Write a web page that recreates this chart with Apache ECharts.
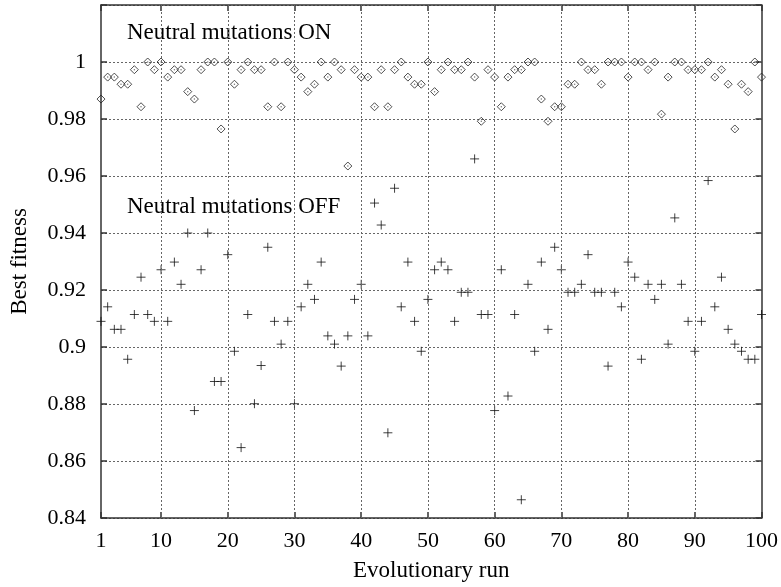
<!DOCTYPE html>
<html>
<head>
<meta charset="utf-8">
<script src="https://cdn.jsdelivr.net/npm/echarts@6/dist/echarts.min.js"></script>
<style>
html,body{margin:0;padding:0;background:#fff;}
#chart{width:781px;height:587px;}
</style>
</head>
<body>
<div id="chart"></div>
<script>
// Evolutionary runs 1..100
const runs = Array.from({length: 100}, (_, i) => i + 1);
const xTicks = [1, 10, 20, 30, 40, 50, 60, 70, 80, 90, 100];

// Best fitness with neutral mutations ON (diamonds)
const fitnessOn = [
  0.987, 0.9947, 0.9947, 0.9922, 0.9922, 0.9973, 0.9843, 1.0, 0.9973, 1.0,
  0.9947, 0.9973, 0.9973, 0.9896, 0.987, 0.9973, 1.0, 1.0, 0.9765, 1.0,
  0.9922, 0.9973, 1.0, 0.9973, 0.9973, 0.9843, 1.0, 0.9843, 1.0, 0.9973,
  0.9947, 0.9896, 0.9922, 1.0, 0.9947, 1.0, 0.9973, 0.9635, 0.9973, 0.9947,
  0.9947, 0.9843, 0.9973, 0.9843, 0.9973, 1.0, 0.9947, 0.9922, 0.9922, 1.0,
  0.9896, 0.9973, 1.0, 0.9973, 0.9973, 1.0, 0.9947, 0.9792, 0.9973, 0.9947,
  0.9843, 0.9947, 0.9973, 0.9973, 1.0, 1.0, 0.987, 0.9792, 0.9843, 0.9843,
  0.9922, 0.9922, 1.0, 0.9973, 0.9973, 0.9922, 1.0, 1.0, 1.0, 0.9947,
  1.0, 1.0, 0.9973, 1.0, 0.9817, 0.9947, 1.0, 1.0, 0.9973, 0.9973,
  0.9973, 1.0, 0.9947, 0.9973, 0.9922, 0.9765, 0.9922, 0.9896, 1.0, 0.9947
];

// Best fitness with neutral mutations OFF (plus signs)
const fitnessOff = [
  0.909, 0.9141, 0.9062, 0.9062, 0.8957, 0.9114, 0.9245, 0.9114, 0.909, 0.9271,
  0.909, 0.9298, 0.922, 0.94, 0.8777, 0.9271, 0.94, 0.8879, 0.8879, 0.9324,
  0.8985, 0.8647, 0.9114, 0.8801, 0.8935, 0.935, 0.909, 0.901, 0.909, 0.8801,
  0.9141, 0.922, 0.9167, 0.9298, 0.9039, 0.901, 0.8933, 0.9039, 0.9167, 0.922,
  0.9039, 0.9505, 0.9428, 0.8699, 0.9557, 0.9141, 0.9298, 0.909, 0.8985, 0.9167,
  0.9271, 0.9298, 0.9271, 0.909, 0.9192, 0.9192, 0.966, 0.9114, 0.9114, 0.8777,
  0.9271, 0.8828, 0.9114, 0.8464, 0.922, 0.8985, 0.9298, 0.9062, 0.935, 0.9271,
  0.9192, 0.9192, 0.922, 0.9324, 0.9192, 0.9192, 0.8933, 0.9192, 0.9141, 0.9298,
  0.9245, 0.8957, 0.922, 0.9167, 0.922, 0.901, 0.9453, 0.922, 0.909, 0.8985,
  0.909, 0.9584, 0.9141, 0.9245, 0.9062, 0.901, 0.8985, 0.8957, 0.8957, 0.9114
];

const labelOn = 'Neutral mutations ON';
const labelOff = 'Neutral mutations OFF';
const xTitle = 'Evolutionary run';
const yTitle = 'Best fitness';

const FONT = "'Liberation Serif', 'Times New Roman', serif";
const onData = runs.map((r, i) => [r, fitnessOn[i]]);
const offData = runs.map((r, i) => [r, fitnessOff[i]]);

const chart = echarts.init(document.getElementById('chart'), null, {renderer: 'canvas'});
const axisLineStyle = {color: '#333', width: 1.5};
const gridLine = {show: true, lineStyle: {color: '#666', type: [2, 2], width: 1}};

chart.setOption({
  animation: false,
  backgroundColor: '#fff',
  textStyle: {fontFamily: FONT},
  grid: {left: 99, right: 19, top: 5, bottom: 66, containLabel: false},
  xAxis: [{
    type: 'value', min: 1, max: 100, position: 'bottom',
    name: xTitle, nameLocation: 'middle', nameGap: 41,
    nameTextStyle: {fontFamily: FONT, fontSize: 23, color: '#000'},
    axisLine: {show: true, onZero: false, lineStyle: axisLineStyle},
    axisTick: {show: true, inside: true, length: 6, customValues: xTicks, lineStyle: {color: '#333', width: 1.5}},
    axisLabel: {customValues: xTicks, fontFamily: FONT, fontSize: 22, color: '#000', margin: 12},
    splitLine: {show: false}
  }, {
    type: 'value', min: 1, max: 100, position: 'top',
    axisLine: {show: true, onZero: false, lineStyle: axisLineStyle},
    axisTick: {show: true, inside: true, length: 6, customValues: xTicks, lineStyle: {color: '#333', width: 1.5}},
    axisLabel: {show: false},
    splitLine: {show: false}
  }],
  yAxis: [{
    type: 'value', min: 0.84, max: 1.02, interval: 0.02, position: 'left',
    name: yTitle, nameLocation: 'middle', nameGap: 70,
    nameTextStyle: {fontFamily: FONT, fontSize: 23, color: '#000'},
    axisLine: {show: true, onZero: false, lineStyle: axisLineStyle},
    axisTick: {show: true, inside: true, length: 6, lineStyle: {color: '#333', width: 1.5}},
    axisLabel: {
      fontFamily: FONT, fontSize: 22, color: '#000', margin: 15,
      formatter: v => (v > 1.001 ? '' : String(parseFloat(v.toFixed(2))))
    },
    splitLine: gridLine
  }, {
    type: 'value', min: 0.84, max: 1.02, interval: 0.02, position: 'right',
    axisLine: {show: true, onZero: false, lineStyle: axisLineStyle},
    axisTick: {show: true, inside: true, length: 6, lineStyle: {color: '#333', width: 1.5}},
    axisLabel: {show: false},
    splitLine: {show: false}
  }],
  graphic: [
    {type: 'text', left: 127, top: 21, style: {text: labelOn, font: "23px 'Liberation Serif', serif", fill: '#000'}},
    {type: 'text', left: 127, top: 195, style: {text: labelOff, font: "23px 'Liberation Serif', serif", fill: '#000'}}
  ],
  series: [
    {
      name: 'grid', type: 'line', data: [], silent: true,
      markLine: {
        silent: true, symbol: 'none', label: {show: false},
        lineStyle: {color: '#666', type: [2, 2], width: 1},
        data: xTicks.filter(t => t > 1 && t < 100).map(t => ({xAxis: t}))
      }
    },
    {
      name: labelOn, type: 'scatter', data: onData,
      symbol: 'diamond', symbolSize: 8,
      itemStyle: {color: 'rgba(255,255,255,0)', borderColor: '#222', borderWidth: 1}
    },
    {
      name: labelOn + ' centre', type: 'scatter', data: onData,
      symbol: 'circle', symbolSize: 1.5,
      itemStyle: {color: '#555'}
    },
    {
      name: labelOff, type: 'scatter', data: offData,
      symbol: 'path://M0,5H10M5,0V10', symbolSize: 9,
      itemStyle: {color: 'none', borderColor: '#111', borderWidth: 1}
    }
  ]
});
</script>
</body>
</html>
